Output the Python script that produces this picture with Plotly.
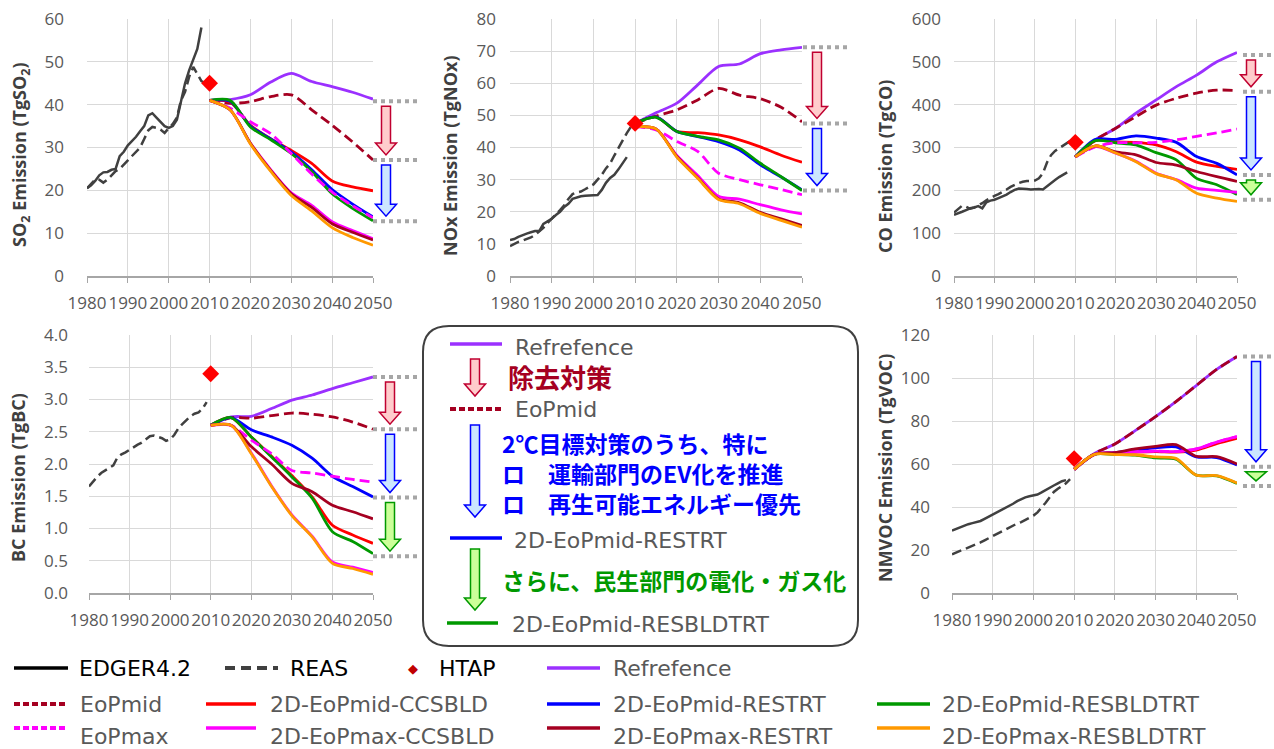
import plotly.graph_objects as go

W, H = 1274, 749

# ---------------- data ----------------
years_edgar = list(range(1980, 2009))
years_reas = list(range(1980, 2010))
scen_years = [2010, 2015, 2020, 2025, 2030, 2035, 2040, 2045, 2050]
tick_years = [1980, 1990, 2000, 2010, 2020, 2030, 2040, 2050]

# SO2 (TgSO2)
so2_edgar = [20.5, 21.2, 22.2, 23.5, 24.2, 24.3, 24.8, 25.0, 28.0, 29.0, 30.5, 31.5, 32.5, 33.8, 35.0,
             37.5, 38.0, 37.0, 36.0, 35.0, 34.6, 35.0, 36.5, 40.5, 45.0, 48.0, 50.5, 53.0, 58.0]
so2_reas = [20.5, 21.5, 22.5, 22.5, 21.8, 22.5, 23.5, 24.5, 25.0, 26.0, 27.0, 28.0, 29.0, 30.0, 32.0,
            34.0, 34.8, 34.6, 34.2, 33.4, 34.5, 35.5, 37.0, 41.0, 43.0, 46.5, 48.8, 47.0, 45.5, 45.0]
so2_htap = [45.0]
so2_ref = [41, 41.2, 42.3, 45.3, 47.3, 45.4, 44.2, 42.9, 41.3]
so2_eopmid = [41, 40.3, 40.7, 41.9, 42.3, 38.8, 35.2, 31.3, 27.1]
so2_mid_ccsbld = [41, 40.6, 35.2, 32.0, 29.3, 26.3, 22.2, 20.8, 19.9]
so2_mid_restrt = [41, 40.8, 35.0, 32.0, 28.9, 24.8, 20.2, 16.8, 13.8]
so2_mid_resbldtrt = [41, 41.0, 34.8, 31.8, 28.6, 24.4, 19.2, 15.8, 12.9]
so2_eopmax = [41, 39.2, 36.0, 33.2, 28.6, 23.8, 19.6, 16.4, 13.6]
so2_max_ccsbld = [41, 38.8, 31.0, 24.8, 19.4, 16.5, 12.7, 10.6, 8.7]
so2_max_restrt = [41, 38.8, 31.0, 24.6, 19.2, 16.0, 12.2, 10.2, 8.4]
so2_max_resbldtrt = [41, 38.8, 30.8, 24.4, 18.8, 15.2, 11.3, 9.0, 7.2]

# NOx (TgNOx)
nox_edgar = [11.2, 11.5, 12.2, 12.8, 13.2, 13.6, 14.0, 14.0, 16.2, 17.0, 17.8, 19.0, 20.0, 21.5, 22.5,
             24.0, 24.5, 24.8, 25.0, 25.0, 25.0, 25.2, 26.8, 29.0, 30.5, 31.5, 33.2, 35.0, 37.0]
nox_reas = [9.3, 10.0, 10.6, 11.0, 11.5, 12.0, 12.8, 13.8, 15.0, 16.5, 18.0, 19.2, 20.5, 22.0, 24.0,
            25.5, 26.0, 26.3, 27.0, 27.8, 28.5, 30.0, 31.5, 33.5, 35.0, 37.5, 40.0, 42.5, 44.5, 46.5]
nox_htap = [47.5]
nox_ref = [47.5, 50.8, 53.8, 59.5, 65.2, 66.0, 69.2, 70.4, 71.2]
nox_eopmid = [47.5, 49.8, 51.7, 54.8, 58.4, 56.3, 55.2, 52.5, 48.0]
nox_mid_ccsbld = [47.5, 49.5, 45.0, 44.6, 43.9, 42.4, 40.2, 37.6, 35.4]
nox_mid_restrt = [47.5, 49.5, 45.0, 43.4, 41.8, 39.2, 34.6, 30.8, 26.8]
nox_mid_resbldtrt = [47.5, 49.4, 45.0, 43.5, 42.4, 39.8, 35.1, 30.9, 26.6]
nox_eopmax = [46.5, 45.5, 41.9, 38.8, 32.0, 30.0, 28.4, 26.9, 25.3]
nox_max_ccsbld = [46.5, 45.8, 37.5, 31.3, 24.8, 23.9, 22.2, 20.6, 19.3]
nox_max_restrt = [46.5, 45.8, 37.2, 30.6, 24.0, 22.8, 19.8, 17.8, 15.7]
nox_max_resbldtrt = [46.5, 45.8, 37.0, 30.4, 23.8, 22.5, 19.5, 17.3, 15.2]

# CO (TgCO)
co_edgar = [143, 146, 150, 154, 158, 160, 163, 158, 172, 176, 178, 182, 186, 190, 196,
            201, 204, 204, 203, 202, 203, 203, 202, 210, 217, 224, 231, 236, 242]
co_reas = [148, 156, 164, 162, 157, 160, 165, 170, 177, 183, 187, 191, 196, 202, 208,
           213, 217, 220, 222, 222, 223, 228, 240, 265, 282, 292, 298, 305, 310, 317]
co_htap = [312]
co_ref = [278, 318, 345, 380, 411, 442, 469, 500, 522]
co_eopmid = [278, 318, 345, 372, 399, 415, 427, 434, 433]
co_mid_ccsbld = [278, 316, 313, 312, 306, 290, 266, 256, 249]
co_mid_restrt = [278, 319, 319, 327, 322, 312, 279, 263, 236]
co_mid_resbldtrt = [278, 316, 311, 306, 288, 271, 228, 213, 190]
co_eopmax = [278, 302, 311, 311, 312, 318, 326, 334, 343]
co_max_ccsbld = [278, 302, 287, 268, 240, 225, 205, 200, 195]
co_max_restrt = [278, 304, 290, 283, 265, 259, 244, 232, 221]
co_max_resbldtrt = [278, 304, 287, 267, 239, 224, 193, 182, 174]

# BC (TgBC)
bc_edgar = []
bc_reas = [1.65, 1.73, 1.80, 1.86, 1.90, 1.94, 1.98, 2.10, 2.15, 2.18, 2.22, 2.27, 2.30, 2.33, 2.38,
           2.43, 2.44, 2.42, 2.40, 2.36, 2.38, 2.45, 2.55, 2.62, 2.68, 2.74, 2.78, 2.80, 2.86, 2.96]
bc_htap = [3.4]
bc_ref = [2.6, 2.73, 2.74, 2.86, 2.99, 3.07, 3.17, 3.26, 3.35]
bc_eopmid = [2.6, 2.72, 2.71, 2.75, 2.79, 2.77, 2.73, 2.65, 2.54]
bc_mid_ccsbld = [2.6, 2.72, 2.42, 2.12, 1.82, 1.49, 1.05, 0.90, 0.77]
bc_mid_restrt = [2.6, 2.72, 2.53, 2.42, 2.29, 2.09, 1.81, 1.65, 1.49]
bc_mid_resbldtrt = [2.6, 2.72, 2.42, 2.11, 1.80, 1.47, 0.95, 0.80, 0.61]
bc_eopmax = [2.6, 2.6, 2.37, 2.16, 1.90, 1.86, 1.81, 1.76, 1.72]
bc_max_ccsbld = [2.6, 2.6, 2.17, 1.66, 1.21, 0.88, 0.48, 0.40, 0.32]
bc_max_restrt = [2.6, 2.6, 2.27, 2.00, 1.70, 1.57, 1.36, 1.26, 1.15]
bc_max_resbldtrt = [2.6, 2.6, 2.16, 1.65, 1.20, 0.87, 0.46, 0.38, 0.29]

# NMVOC (TgVOC)
voc_edgar = [29.0, 29.8, 30.5, 31.3, 32.0, 32.5, 33.0, 33.5, 34.5, 35.5, 36.2, 37.2, 38.2, 39.2, 40.3,
             41.5, 42.7, 43.7, 44.5, 45.0, 45.3, 45.8, 46.8, 48.0, 49.0, 50.0, 51.0, 52.0, 52.5]
voc_reas = [18.0, 18.8, 19.5, 20.2, 21.0, 21.8, 22.5, 23.5, 24.5, 25.5, 26.5, 27.5, 28.5, 29.6, 30.6,
            31.5, 32.3, 33.0, 34.0, 35.0, 36.0, 37.5, 39.5, 42.0, 44.5, 47.0, 48.5, 49.8, 51.0, 53.0]
voc_htap = [62.5]
voc_ref = [57.5, 64.9, 69.3, 75.5, 82.0, 89.0, 96.5, 104.0, 110.0]
voc_eopmid = [57.5, 64.9, 69.3, 75.5, 82.0, 89.0, 96.5, 104.0, 110.0]
voc_mid_ccsbld = [57.5, 64.5, 65.0, 65.5, 65.8, 65.5, 66.5, 69.5, 72.0]
voc_mid_restrt = [57.5, 64.5, 65.3, 66.5, 67.5, 68.0, 63.3, 63.0, 59.5]
voc_mid_resbldtrt = [57.5, 64.5, 64.4, 64.1, 62.8, 62.2, 54.8, 54.5, 51.0]
voc_eopmax = [57.5, 64.5, 65.2, 65.7, 66.0, 65.8, 67.0, 70.2, 72.8]
voc_max_ccsbld = [57.5, 64.5, 65.2, 65.7, 66.0, 65.8, 67.0, 70.2, 72.8]
voc_max_restrt = [57.5, 64.5, 65.3, 67.0, 68.2, 69.0, 63.6, 63.4, 60.0]
voc_max_resbldtrt = [57.5, 64.5, 64.4, 64.3, 63.3, 62.6, 54.8, 54.6, 51.2]

# 2050 step levels marked by the dotted guides
so2_levels = [40.8, 27.1, 12.8]
nox_levels = [71.2, 47.5, 26.6]
co_levels = [516, 430, 236, 178]
bc_levels = [3.35, 2.54, 1.48, 0.57]
voc_levels = [110, 58.7, 49.8]

series_names = ["Refrefence", "EoPmid", "2D-EoPmid-CCSBLD", "2D-EoPmid-RESTRT", "2D-EoPmid-RESBLDTRT",
                "EoPmax", "2D-EoPmax-CCSBLD", "2D-EoPmax-RESTRT", "2D-EoPmax-RESBLDTRT"]

# ---------------- styles ----------------
PURPLE = "#9B30FF"
DRED = "#A50021"
RED = "#FF0000"
BLUE = "#0000FF"
GREEN = "#009900"
MAG = "#FF00FF"
ORANGE = "#FF9900"
HIST = "#404040"
DASH = "10px,5px"
series_styles = [(PURPLE, "solid"), (DRED, DASH), (RED, "solid"), (BLUE, "solid"), (GREEN, "solid"),
                 (MAG, DASH), (MAG, "solid"), (DRED, "solid"), (ORANGE, "solid")]

ARROW = {"red": ("#FFCCCC", "#C00030"), "blue": ("#CCE6FF", "#0000FF"), "green": ("#CCFF99", "#009900")}

panels = [
    dict(key="so2", px=(87, 373), py=(19, 276), rng=(0, 60), dtick=10, fmt="",
         title="SO<sub>2</sub> Emission (TgSO<sub>2</sub>)", tx=20, ty=155, ystand=22,
         edgar=so2_edgar, reas=so2_reas, htap=so2_htap,
         scen=[so2_ref, so2_eopmid, so2_mid_ccsbld, so2_mid_restrt, so2_mid_resbldtrt,
               so2_eopmax, so2_max_ccsbld, so2_max_restrt, so2_max_resbldtrt],
         levels=so2_levels, arrows=["red", "blue"], acx=386, dx=(373, 418)),
    dict(key="nox", px=(510, 802), py=(19, 276), rng=(0, 80), dtick=10, fmt="",
         title="NOx Emission (TgNOx)", tx=450, ty=156, ystand=13,
         edgar=nox_edgar, reas=nox_reas, htap=nox_htap,
         scen=[nox_ref, nox_eopmid, nox_mid_ccsbld, nox_mid_restrt, nox_mid_resbldtrt,
               nox_eopmax, nox_max_ccsbld, nox_max_restrt, nox_max_resbldtrt],
         levels=nox_levels, arrows=["red", "blue"], acx=817, dx=(803, 848)),
    dict(key="co", px=(954, 1237), py=(19, 276), rng=(0, 600), dtick=100, fmt="",
         title="CO Emission (TgCO)", tx=885, ty=167, ystand=12,
         edgar=co_edgar, reas=co_reas, htap=co_htap,
         scen=[co_ref, co_eopmid, co_mid_ccsbld, co_mid_restrt, co_mid_resbldtrt,
               co_eopmax, co_max_ccsbld, co_max_restrt, co_max_resbldtrt],
         levels=co_levels, arrows=["red", "blue", "green"], acx=1251, dx=(1243, 1274)),
    dict(key="bc", px=(89, 373), py=(335, 593), rng=(0, 4), dtick=0.5, fmt=".1f",
         title="BC Emission (TgBC)", tx=18, ty=478, ystand=20,
         edgar=bc_edgar, reas=bc_reas, htap=bc_htap,
         scen=[bc_ref, bc_eopmid, bc_mid_ccsbld, bc_mid_restrt, bc_mid_resbldtrt,
               bc_eopmax, bc_max_ccsbld, bc_max_restrt, bc_max_resbldtrt],
         levels=bc_levels, arrows=["red", "blue", "green"], acx=390, dx=(373, 418)),
    dict(key="voc", px=(952, 1237), py=(335, 593), rng=(0, 120), dtick=20, fmt="",
         title="NMVOC Emission (TgVOC)", tx=885, ty=468, ystand=21,
         edgar=voc_edgar, reas=voc_reas, htap=voc_htap,
         scen=[voc_ref, voc_eopmid, voc_mid_ccsbld, voc_mid_restrt, voc_mid_resbldtrt,
               voc_eopmax, voc_max_ccsbld, voc_max_restrt, voc_max_resbldtrt],
         levels=voc_levels, arrows=["blue", "green"], acx=1256, dx=(1243, 1274)),
]

fig = go.Figure()
shapes = []
annotations = []
layout = dict(width=W, height=H, margin=dict(l=0, r=0, t=0, b=0, autoexpand=False), showlegend=False,
              plot_bgcolor="white", paper_bgcolor="white")


def arrow_path(cx, ytop, ytip, hl, sw, hw):
    hb = ytip + hl
    if hb > ytop:
        hb = ytop
    return (f"M {cx-sw},{ytop} L {cx+sw},{ytop} L {cx+sw},{hb} L {cx+hw},{hb} "
            f"L {cx},{ytip} L {cx-hw},{hb} L {cx-sw},{hb} Z")


for i, p in enumerate(panels):
    n = i + 1
    xa = "x" if n == 1 else f"x{n}"
    ya = "y" if n == 1 else f"y{n}"
    xd = [p["px"][0] / W, p["px"][1] / W]
    yd = [1 - p["py"][1] / H, 1 - p["py"][0] / H]
    layout["xaxis" if n == 1 else f"xaxis{n}"] = dict(
        domain=xd, anchor=ya, range=[1980, 2050], tickvals=tick_years, tickangle=0,
        showgrid=True, gridcolor="#D9D9D9", gridwidth=1, zeroline=False, automargin=False,
        showline=True, linecolor="#A6A6A6", linewidth=1.5, ticks="outside", ticklen=5,
        tickcolor="#A6A6A6", ticklabelstandoff=6,
        tickfont=dict(family="Open Sans", size=17, color="#595959"), fixedrange=True)
    layout["yaxis" if n == 1 else f"yaxis{n}"] = dict(
        domain=yd, anchor=xa, range=list(p["rng"]), dtick=p["dtick"], tick0=0, automargin=False,
        tickformat=p["fmt"], showgrid=True, gridcolor="#D9D9D9", gridwidth=1,
        zeroline=False, showline=False, ticks="", ticklabelstandoff=p["ystand"],
        tickfont=dict(family="Open Sans", size=17, color="#595959"), fixedrange=True)

    if p["edgar"]:
        fig.add_trace(go.Scatter(x=years_edgar[:len(p["edgar"])], y=p["edgar"], mode="lines",
                                 line=dict(color=HIST, width=2.5), xaxis=xa, yaxis=ya, name="EDGER4.2"))
    fig.add_trace(go.Scatter(x=years_reas[:len(p["reas"])], y=p["reas"], mode="lines",
                             line=dict(color=HIST, width=2.5, dash=DASH), xaxis=xa, yaxis=ya, name="REAS"))
    for vals, (col, dash), nm in zip(p["scen"], series_styles, series_names):
        fig.add_trace(go.Scatter(x=scen_years, y=vals, mode="lines", name=nm,
                                 line=dict(color=col, width=2.8, dash=dash, shape="spline", smoothing=0.8),
                                 xaxis=xa, yaxis=ya))
    fig.add_trace(go.Scatter(x=[2010], y=p["htap"], mode="markers", name="HTAP",
                             marker=dict(symbol="diamond", size=13, color="#FF0000"),
                             xaxis=xa, yaxis=ya, cliponaxis=False))

    # axis title
    annotations.append(dict(text=f"<b>{p['title']}</b>", xref="paper", yref="paper",
                            x=p["tx"] / W, y=1 - p["ty"] / H, textangle=-90, showarrow=False,
                            xanchor="center", yanchor="middle",
                            font=dict(family="Open Sans", size=18, color="#404040")))

    # dotted guides and step arrows
    dpp = (p["rng"][1] - p["rng"][0]) / (p["py"][1] - p["py"][0])  # data units per pixel
    for lv in p["levels"]:
        shapes.append(dict(type="line", xref="paper", yref=ya, x0=p["dx"][0] / W, x1=p["dx"][1] / W,
                           y0=lv, y1=lv, line=dict(color="#A6A6A6", width=4, dash="dot")))
    for k, cname in enumerate(p["arrows"]):
        fill, edge = ARROW[cname]
        ytop = p["levels"][k] - 5 * dpp
        ytip = p["levels"][k + 1] + 5 * dpp
        shapes.append(dict(type="path", xref="paper", yref=ya,
                           path=arrow_path(p["acx"] / W, ytop, ytip, 12 * dpp, 4.5 / W, 10.5 / W),
                           fillcolor=fill, line=dict(color=edge, width=1.5)))

# ---------------- central explanation box ----------------
def px2x(x):
    return x / W


def px2y(y):
    return 1 - y / H


bx0, bx1, by0, by1, r = 423, 858, 326, 646, 26
path = (f"M {px2x(bx0+r)},{px2y(by0)} L {px2x(bx1-r)},{px2y(by0)} Q {px2x(bx1)},{px2y(by0)} {px2x(bx1)},{px2y(by0+r)} "
        f"L {px2x(bx1)},{px2y(by1-r)} Q {px2x(bx1)},{px2y(by1)} {px2x(bx1-r)},{px2y(by1)} "
        f"L {px2x(bx0+r)},{px2y(by1)} Q {px2x(bx0)},{px2y(by1)} {px2x(bx0)},{px2y(by1-r)} "
        f"L {px2x(bx0)},{px2y(by0+r)} Q {px2x(bx0)},{px2y(by0)} {px2x(bx0+r)},{px2y(by0)} Z")
shapes.append(dict(type="path", xref="paper", yref="paper", path=path, fillcolor="white",
                   line=dict(color="#404040", width=2), layer="above"))


def legline(x0, x1, y, color, dash="solid", width=3.5):
    shapes.append(dict(type="line", xref="paper", yref="paper", x0=px2x(x0), x1=px2x(x1),
                       y0=px2y(y), y1=px2y(y), line=dict(color=color, width=width, dash=dash), layer="above"))


def legtext(x, y, text, color="#595959", size=22, family="DejaVu Sans"):
    annotations.append(dict(text=text, xref="paper", yref="paper", x=px2x(x), y=px2y(y),
                            xanchor="left", yanchor="middle", showarrow=False, align="left",
                            font=dict(family=family, size=size, color=color)))


def boxarrow(cx, ytop, ytip, cname):
    fill, edge = ARROW[cname]
    shapes.append(dict(type="path", xref="paper", yref="paper",
                       path=arrow_path(px2x(cx), px2y(ytop), px2y(ytip), 12 / H, 4.5 / W, 10.5 / W),
                       fillcolor=fill, line=dict(color=edge, width=1.5), layer="above"))


JP = "Noto Sans CJK JP"
legline(450, 502, 344, PURPLE)
legtext(513, 347, "Refrefence")
boxarrow(475, 359, 396, "red")
legtext(506, 376, "<b>除去対策</b>", color=DRED, size=26, family=JP)
legline(450, 502, 409, DRED, dash="6px,3px", width=4)
legtext(513, 409, "EoPmid")
boxarrow(475, 425, 517, "blue")
legtext(500, 473, "<b>2℃目標対策のうち、特に<br>ロ　運輸部門のEV化を推進<br>ロ　再生可能エネルギー優先</b>",
        color=BLUE, size=23, family=JP)
legline(450, 502, 538, BLUE)
legtext(512, 540, "2D-EoPmid-RESTRT")
boxarrow(475, 549, 610, "green")
legtext(500, 580, "<b>さらに、民生部門の電化・ガス化</b>", color=GREEN, size=23, family=JP)
legline(447, 498, 623, GREEN)
legtext(510, 624, "2D-EoPmid-RESBLDTRT")

# ---------------- bottom legend ----------------
r1, r2, r3 = 668, 704, 728
legline(14, 68, r1, "#000000")
legtext(77, r1, "EDGER4.2", color="#000000")
legline(225, 278, r1, HIST, dash="10px,6px", width=4)
legtext(288, r1, "REAS", color="#000000")
annotations.append(dict(text="◆", xref="paper", yref="paper", x=px2x(413), y=px2y(r1),
                        xanchor="center", yanchor="middle", showarrow=False,
                        font=dict(family="DejaVu Sans", size=13, color="#C00000")))
legtext(437, r1, "HTAP", color="#000000")
legline(547, 600, r1, PURPLE)
legtext(611, r1, "Refrefence")

legline(14, 68, r2, DRED, dash="6px,3px", width=4)
legtext(78, r2, "EoPmid")
legline(206, 256, r2, RED)
legtext(268, r2, "2D-EoPmid-CCSBLD")
legline(547, 600, r2, BLUE)
legtext(611, r2, "2D-EoPmid-RESTRT")
legline(877, 930, r2, GREEN)
legtext(940, r2, "2D-EoPmid-RESBLDTRT")

legline(14, 68, r3, MAG, dash="6px,3px", width=4)
legtext(78, 736, "EoPmax")
legline(206, 256, r3, MAG)
legtext(268, 736, "2D-EoPmax-CCSBLD")
legline(547, 600, r3, DRED)
legtext(611, 736, "2D-EoPmax-RESTRT")
legline(877, 930, r3, ORANGE)
legtext(940, 736, "2D-EoPmax-RESBLDTRT")

layout["shapes"] = shapes
layout["annotations"] = annotations
fig.update_layout(**layout)
fig.write_html("out.html", config={"displayModeBar": False},
               post_script="document.body.style.margin='0px';document.body.style.overflow='hidden';")
